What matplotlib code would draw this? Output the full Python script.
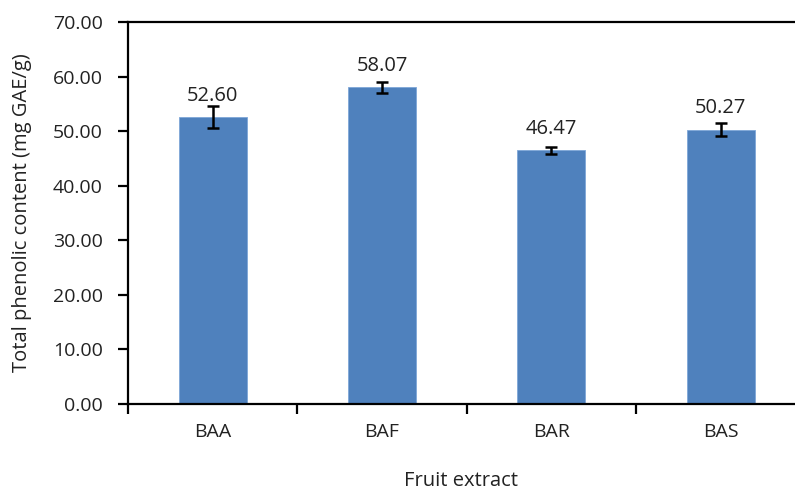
import numpy as np
import matplotlib
matplotlib.use("Agg")
from matplotlib import pyplot as plt

extracts = ["BAA", "BAF", "BAR", "BAS"]
phenolic = [52.60, 58.07, 46.47, 50.27]
phenolic_err = [2.0, 1.0, 0.7, 1.2]

plt.rcParams["font.family"] = ["Open Sans", "DejaVu Sans"]

fig = plt.figure(figsize=(7.95, 4.92), dpi=100)
# axis runs slightly past the right edge of the canvas
ax = fig.add_axes([0.161, 0.179, 0.852, 0.776])

x = np.arange(len(extracts))
ax.bar(x, phenolic, width=0.40, color="#4F81BD", edgecolor="#7EA6D8", linewidth=0.6,
       yerr=phenolic_err, error_kw=dict(ecolor="black", elinewidth=1.8, capsize=4.5, capthick=1.8))

# value labels sit a fixed distance above each bar top
for xi, v in zip(x, phenolic):
    ax.text(xi, v + 3.0, f"{v:.2f}", ha="center", va="baseline", fontsize=14.5, color="#222222")

ax.set_xlim(-0.5, len(extracts) - 0.5)
ax.set_ylim(0, 70)
ax.set_yticks(np.arange(0, 71, 10))
ax.set_yticklabels([f"{t:.2f}" for t in np.arange(0, 71, 10)], fontsize=14, color="#222222")
ax.set_xticks(x)
ax.set_xticklabels(extracts, fontsize=14, color="#222222")
ax.tick_params(axis="x", length=0, pad=14)
ax.set_xticks(np.arange(-0.5, len(extracts)), minor=True)
ax.tick_params(axis="x", which="minor", length=7, width=1.6, direction="out")
ax.tick_params(axis="y", length=7, width=1.6, direction="out", pad=11)

for side in ["left", "bottom", "top"]:
    ax.spines[side].set_linewidth(1.6)
ax.spines["right"].set_visible(False)

ax.set_ylabel("Total phenolic content (mg GAE/g)", fontsize=14.5, color="#222222")
ax.yaxis.set_label_coords(-0.142, 0.5)
ax.set_xlabel("Fruit extract", fontsize=14.5, color="#222222")
ax.xaxis.set_label_coords(0.492, -0.175)

fig.savefig("out.png", dpi=100)
